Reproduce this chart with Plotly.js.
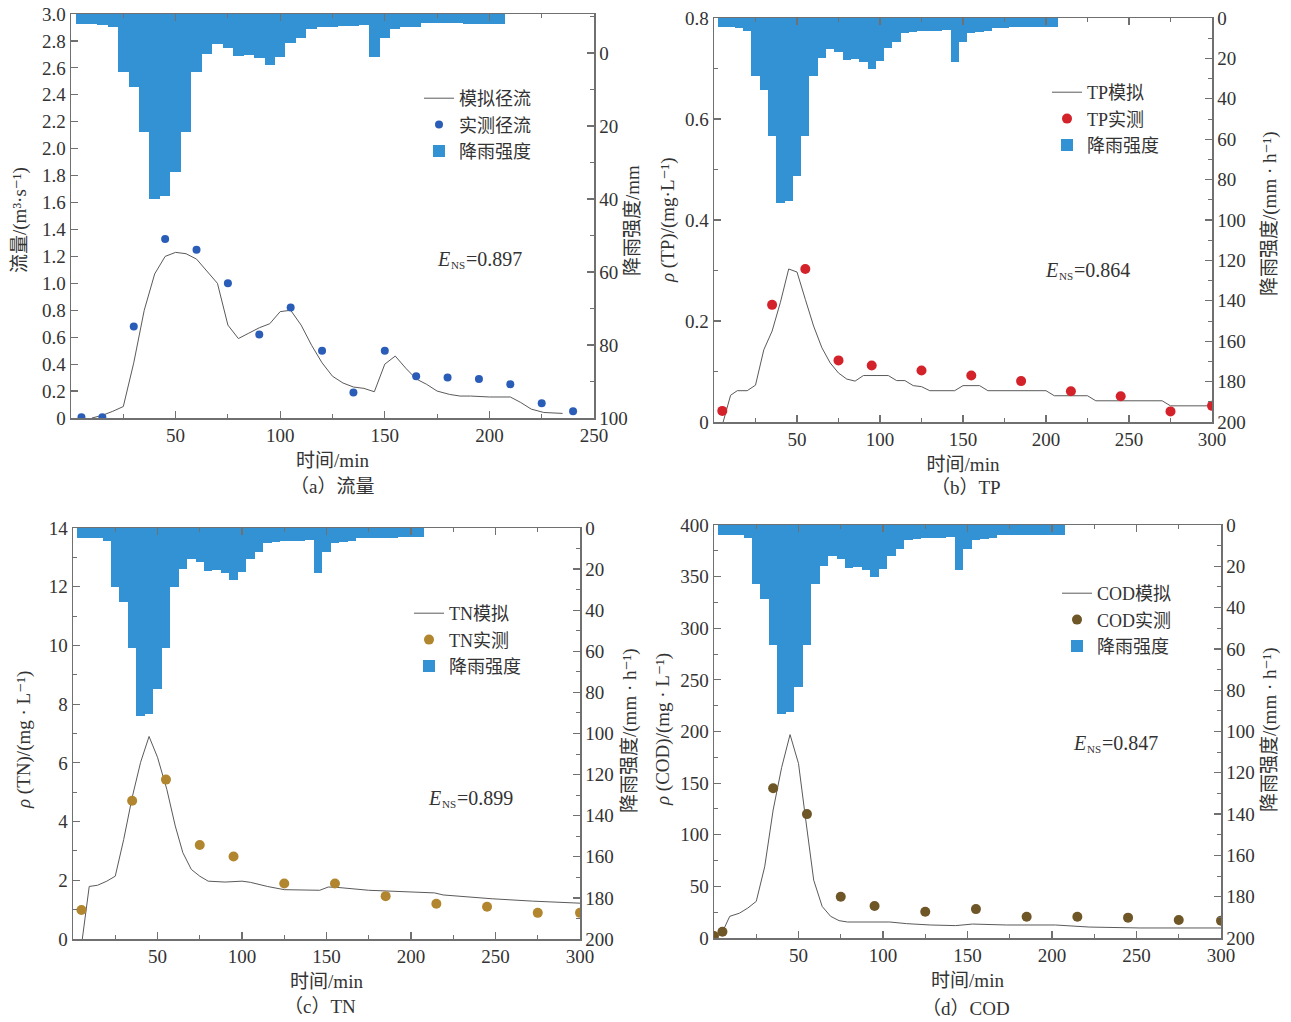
<!DOCTYPE html>
<html><head><meta charset="utf-8">
<script src="https://cdn.plot.ly/plotly-3.0.1.min.js"></script>
<style>html,body{margin:0;padding:0;background:#fff;} #chart{width:1291px;height:1022px;}</style>
</head><body><div id="chart"></div>
<script>
// ---------------- data ----------------
const rainTime = [5,10,15,20,25,30,35,40,45,50,55,60,65,70,75,80,85,90,95,100,105,110,115,120,125,130,135,140,145,150,155,160,165,170,175,180,185,190,195,200,205];
// panel (a) rainfall, mm
const rainA = [2.7,2.7,3.0,3.5,15.8,19.9,32.3,50.8,50.0,43.2,32.3,15.9,11.0,8.3,9.4,11.5,11.2,12.1,14.1,11.9,8.0,6.5,4.2,3.6,3.5,3.4,3.3,3.1,11.9,6.5,4.2,3.6,3.5,2.6,2.6,2.6,2.6,2.7,2.7,2.7,2.7];
// panels (b)(c)(d) rainfall intensity, mm/h
const rainB = [4.7,4.7,4.8,6.2,28.8,35.8,58.3,91.7,90.5,78.3,58.3,28.8,20.0,15.2,16.7,20.8,20.5,21.8,25.3,21.5,15.0,11.7,7.5,6.8,6.5,6.3,6.2,5.8,22.0,11.7,7.5,6.8,6.3,4.8,4.8,4.7,4.7,4.7,4.6,4.6,4.6];

const flowObsT = [5,15,30,45,60,75,90,105,120,135,150,165,180,195,210,225,240];
const flowObs  = [0.005,0.005,0.68,1.33,1.25,1.0,0.62,0.82,0.5,0.19,0.5,0.31,0.30,0.29,0.25,0.11,0.05];
const flowSimT = [10,15,20,25,30,35,40,45,50,55,60,65,70,75,80,85,90,95,100,105,110,115,120,125,130,135,140,145,150,155,160,165,170,175,181,186,191,200,210,215,220,226,231,235];
const flowSim  = [0.0,0.02,0.05,0.085,0.41,0.80,1.07,1.20,1.23,1.22,1.18,1.09,1.00,0.69,0.59,0.63,0.67,0.70,0.79,0.80,0.69,0.54,0.41,0.31,0.26,0.23,0.22,0.195,0.40,0.46,0.37,0.29,0.25,0.20,0.175,0.163,0.163,0.156,0.156,0.115,0.066,0.041,0.034,0.034];

const tpObsT = [5,35,55,75,95,125,155,185,215,245,275,300];
const tpObs  = [0.022,0.232,0.303,0.122,0.112,0.102,0.092,0.081,0.061,0.051,0.021,0.032];
const tpSimT = [5.5,10,14,20,25,30,35,40,45,50,55,60,65,70,75,80,85,90,105,110,115,120,125,130,145,150,160,165,200,205,225,230,270,275,300];
const tpSim  = [0,0.053,0.062,0.062,0.073,0.143,0.18,0.237,0.303,0.297,0.243,0.19,0.147,0.117,0.097,0.085,0.081,0.092,0.092,0.082,0.082,0.072,0.07,0.062,0.062,0.072,0.072,0.062,0.062,0.052,0.052,0.042,0.042,0.032,0.032];

const tnObsT = [5,35,55,75,95,125,155,185,215,245,275,300];
const tnObs  = [0.99,4.71,5.43,3.2,2.81,1.89,1.89,1.46,1.2,1.1,0.89,0.89];
const tnSimT = [5.5,9.6,14.5,20,25,30,35,40,45,50,55.5,60.5,65,70,75,80,90,100,105,115,125,137,146,151,156,175,200,214,219,248,272,300];
const tnSim  = [0,1.79,1.83,1.97,2.14,3.39,4.82,6.02,6.9,6.19,5.1,3.85,2.94,2.37,2.14,1.97,1.94,1.97,1.93,1.79,1.68,1.66,1.66,1.77,1.76,1.66,1.61,1.57,1.5,1.37,1.29,1.22];

const codObsT = [0,5,35,55,75,95,125,155,185,215,245,275,300];
const codObs  = [2,6,145,120,40,31,25.5,28,20.6,20.6,19.7,17.4,16.8];
const codSimT = [4.5,9.3,15,20,25,30,35,40,45,50,54,59,64,69,74,79,104,114,128,143,153,173,202,222,252,300];
const codSim  = [4,21,24,29,35.5,69,124,165,197,169,118,56,30.6,21,16.8,15.5,15.5,13.9,12.6,12,13.5,12.6,12.6,10.6,9.7,9.7];

// Nash–Sutcliffe efficiencies
const ensValues = ['0.897', '0.864', '0.899', '0.847'];

// tick labels
const xTicksA = [50,100,150,200,250];
const xTicksB = [50,100,150,200,250,300];
const flowTicks = [0,0.2,0.4,0.6,0.8,1.0,1.2,1.4,1.6,1.8,2.0,2.2,2.4,2.6,2.8,3.0];
const flowTickText = ['0','0.2','0.4','0.6','0.8','1.0','1.2','1.4','1.6','1.8','2.0','2.2','2.4','2.6','2.8','3.0'];
const tpTicks = [0,0.2,0.4,0.6,0.8];
const tpTickText = ['0','0.2','0.4','0.6','0.8'];
const tnTicks = [0,2,4,6,8,10,12,14];
const codTicks = [0,50,100,150,200,250,300,350,400];
const rainTicksA = [0,20,40,60,80,100];
const rainTicksB = [0,20,40,60,80,100,120,140,160,180,200];

// ---------------- styling ----------------
const W = 1291, H = 1022;
const FONT = "'Liberation Serif', 'DejaVu Serif', 'Noto Sans CJK SC', serif";
const TXT = '#333333', AX = '#707070', RAIN = '#3392D4', LINE = '#5a5a5a';
const fx = p => p / W;
const fy = p => 1 - p / H;

function xAx(px0, px1, range, anchor, tv) {
  return {
    domain: [fx(px0), fx(px1)], range: range, anchor: anchor,
    showline: true, linecolor: AX, linewidth: 1.5, mirror: 'ticks',
    ticks: 'inside', ticklen: 7, tickwidth: 1.2, tickcolor: AX,
    tickmode: 'array', tickvals: tv,
    minor: {ticks: 'inside', ticklen: 4, tickwidth: 1, tickcolor: AX, tick0: 0, dtick: 25, showgrid: false},
    showgrid: false, zeroline: false,
    tickfont: {family: FONT, size: 19, color: TXT},
    title: {text: '时间/min', font: {family: FONT, size: 19, color: TXT}, standoff: 8}
  };
}
function yL(py0, py1, range, anchor, tv, tt, minorD) {
  const a = {
    domain: [fy(py1), fy(py0)], range: range, anchor: anchor,
    showline: true, linecolor: AX, linewidth: 1.5,
    ticks: 'inside', ticklen: 7, tickwidth: 1.2, tickcolor: AX,
    tickmode: 'array', tickvals: tv, ticktext: tt,
    showgrid: false, zeroline: false,
    tickfont: {family: FONT, size: 19, color: TXT}
  };
  if (minorD) a.minor = {ticks: 'inside', ticklen: 4, tickwidth: 1, tickcolor: AX, tick0: 0, dtick: minorD, showgrid: false};
  return a;
}
function yR(over, anchor, range, tv) {
  return {
    overlaying: over, anchor: anchor, side: 'right', range: range,
    showline: true, linecolor: AX, linewidth: 1.5,
    ticks: 'inside', ticklen: 7, tickwidth: 1.2, tickcolor: AX,
    tickmode: 'array', tickvals: tv,
    minor: {ticks: 'inside', ticklen: 4, tickwidth: 1, tickcolor: AX, tick0: 0, dtick: 10, showgrid: false},
    showgrid: false, zeroline: false,
    tickfont: {family: FONT, size: 19, color: TXT}
  };
}
function leg(pxLeft, pyMid) {
  return {x: fx(pxLeft), y: fy(pyMid), xanchor: 'left', yanchor: 'middle',
    bgcolor: 'rgba(0,0,0,0)', borderwidth: 0, itemwidth: 30, tracegroupgap: 0,
    font: {family: FONT, size: 18, color: TXT}};
}

// ---------------- traces ----------------
function panel(xa, yl, yr, legendId, simT, sim, obsT, obs, rainT, rain, rainBase, names, obsColor, obsSize) {
  return [
    {type: 'scatter', mode: 'lines', x: simT, y: sim, xaxis: xa, yaxis: yl, name: names[0],
     line: {color: LINE, width: 1}, legend: legendId, legendrank: 1},
    {type: 'scatter', mode: 'markers', x: obsT, y: obs, xaxis: xa, yaxis: yl, name: names[1],
     marker: {color: obsColor, size: obsSize}, legend: legendId, legendrank: 2},
    {type: 'bar', x: rainT, y: rain, base: rainBase, width: 5, xaxis: xa, yaxis: yr, name: '降雨强度',
     marker: {color: RAIN, line: {width: 0}}, legend: legendId, legendrank: 3}
  ];
}
const rainTopA = -10.7;
const data = [].concat(
  panel('x', 'y', 'y2', 'legend', flowSimT, flowSim, flowObsT, flowObs, rainTime, rainA, rainTopA, ['模拟径流', '实测径流'], '#2A5DB8', 8),
  panel('x2', 'y3', 'y4', 'legend2', tpSimT, tpSim, tpObsT, tpObs, rainTime, rainB, 0, ['TP模拟', 'TP实测'], '#D3222A', 10),
  panel('x3', 'y5', 'y6', 'legend3', tnSimT, tnSim, tnObsT, tnObs, rainTime, rainB, 0, ['TN模拟', 'TN实测'], '#B2862F', 10),
  panel('x4', 'y7', 'y8', 'legend4', codSimT, codSim, codObsT, codObs, rainTime, rainB, 0, ['COD模拟', 'COD实测'], '#6F5627', 10)
);

// ---------------- annotations ----------------
function ann(text, px, py, opts) {
  return Object.assign({text: text, x: fx(px), y: fy(py), xref: 'paper', yref: 'paper',
    showarrow: false, xanchor: 'center', yanchor: 'middle',
    font: {family: FONT, size: 19, color: TXT}}, opts || {});
}
// E_NS label split into three plain texts (italic E, small NS, value), boxes side by side
function ens(value, pxLeft, pyMid) {
  return [
    ann('<i>E</i>', pxLeft, pyMid, {xanchor: 'left', borderpad: 0, font: {family: FONT, size: 20, color: TXT}}),
    ann('NS', pxLeft + 13.5, pyMid + 6, {xanchor: 'left', borderpad: 0, font: {family: FONT, size: 11, color: TXT}}),
    ann('=' + value, pxLeft + 28.5, pyMid, {xanchor: 'left', borderpad: 0, font: {family: FONT, size: 20, color: TXT}})
  ];
}
const annotations = [
  ann('流量/(m³·s⁻¹)', 20, 220, {textangle: -90}),
  ann('降雨强度/mm', 633, 221, {textangle: -90}),
  ann('<i>ρ</i> (TP)/(mg·L⁻¹)', 668, 220, {textangle: -90}),
  ann('降雨强度/(mm · h⁻¹)', 1270, 214, {textangle: -90}),
  ann('<i>ρ</i> (TN)/(mg · L⁻¹)', 24, 740, {textangle: -90}),
  ann('降雨强度/(mm · h⁻¹)', 630, 731, {textangle: -90}),
  ann('<i>ρ</i> (COD)/(mg · L⁻¹)', 663, 730, {textangle: -90}),
  ann('降雨强度/(mm · h⁻¹)', 1270, 730, {textangle: -90}),
  ann('（a）流量', 332, 486),
  ann('（b）TP', 966, 487),
  ann('（c）TN', 320, 1006),
  ann('（d）COD', 966, 1008)
].concat(
  ens(ensValues[0], 436, 259),
  ens(ensValues[1], 1044, 270),
  ens(ensValues[2], 427, 798),
  ens(ensValues[3], 1072, 743)
);

const layout = {
  width: W, height: H, margin: {l: 0, r: 0, t: 0, b: 0},
  paper_bgcolor: '#ffffff', plot_bgcolor: 'rgba(0,0,0,0)',
  bargap: 0, barmode: 'overlay', showlegend: true,
  font: {family: FONT, size: 19, color: TXT},
  xaxis:  xAx(71, 594, [0, 250], 'y', xTicksA),
  yaxis:  yL(14, 418, [0, 3.0], 'x', flowTicks, flowTickText, 0),
  yaxis2: yR('y', 'x', [100, rainTopA], rainTicksA),
  xaxis2: xAx(714, 1212, [0, 300], 'y3', xTicksB),
  yaxis3: yL(18, 422, [0, 0.8], 'x2', tpTicks, tpTickText, 0.1),
  yaxis4: yR('y3', 'x2', [200, 0], rainTicksB),
  xaxis3: xAx(73, 580, [0, 300], 'y5', xTicksB),
  yaxis5: yL(528, 939, [0, 14], 'x3', tnTicks, tnTicks.map(String), 1),
  yaxis6: yR('y5', 'x3', [200, 0], rainTicksB),
  xaxis4: xAx(714, 1221, [0, 300], 'y7', xTicksB),
  yaxis7: yL(525, 938, [0, 400], 'x4', codTicks, codTicks.map(String), 25),
  yaxis8: yR('y7', 'x4', [200, 0], rainTicksB),
  legend:  leg(419, 125),
  legend2: leg(1047, 119),
  legend3: leg(409, 640),
  legend4: leg(1057, 620),
  annotations: annotations
};

Plotly.newPlot('chart', data, layout, {displayModeBar: false, staticPlot: true});
</script></body></html>
